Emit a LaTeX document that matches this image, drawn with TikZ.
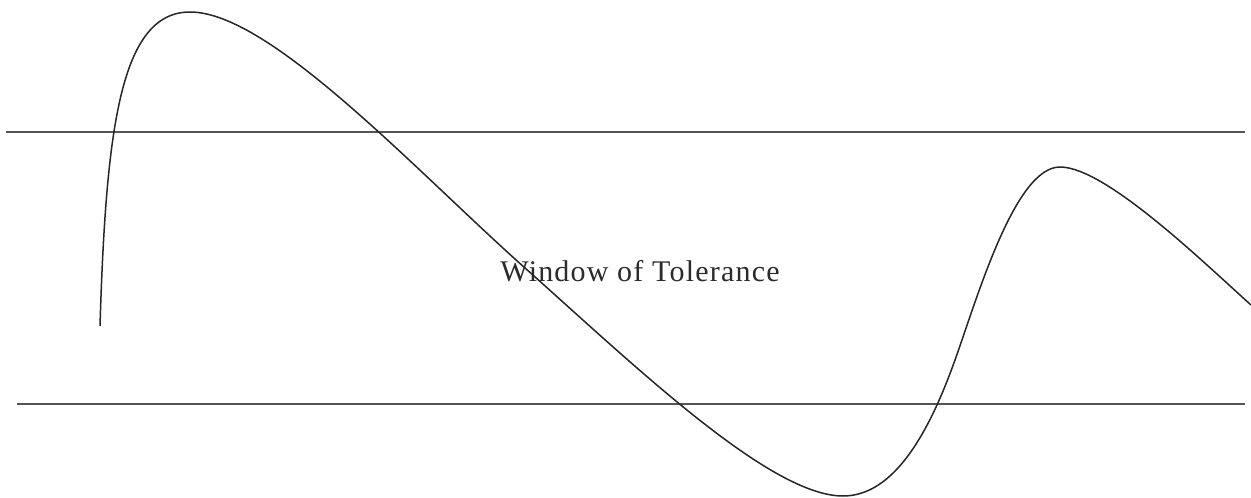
\documentclass[tikz,border=0pt]{standalone}
\usepackage{fontspec}
\setmainfont{Liberation Serif}
\definecolor{LineGrey}{HTML}{555555}
\definecolor{CurveInk}{HTML}{262626}
\definecolor{TextInk}{HTML}{2B2B2B}
\tikzset{
  band/.style={draw=LineGrey, line width=1.5pt},
  wave/.style={draw=CurveInk, line width=1.5pt},
}
\begin{document}
\begin{tikzpicture}[x=1pt, y=-1pt]
  \useasboundingbox (0,0) rectangle (1251,498);
  % limits of the window
  \coordinate (upL) at (6,132);
  \coordinate (upR) at (1245,132);
  \coordinate (loL) at (17,404);
  \coordinate (loR) at (1245,404);
  \draw[band] (upL) -- (upR);
  \draw[band] (loL) -- (loR);
  \node[font=\fontsize{30}{32}\selectfont\addfontfeature{LetterSpace=4}, text=TextInk] (wot) at (640,271) {Window of Tolerance};
  % arousal curve
  \draw[wave] (100,326) .. controls (106,130) and (120,12) .. (190,12)
    .. controls (270,12) and (415,170) .. (525,268)
    .. controls (635,366) and (770,496) .. (843,496)
    .. controls (895,496) and (930,430) .. (955,360)
    .. controls (977.5,297) and (1015,167) .. (1060,167)
    .. controls (1105,167) and (1201,260) .. (1251,305);
\end{tikzpicture}
\end{document}
